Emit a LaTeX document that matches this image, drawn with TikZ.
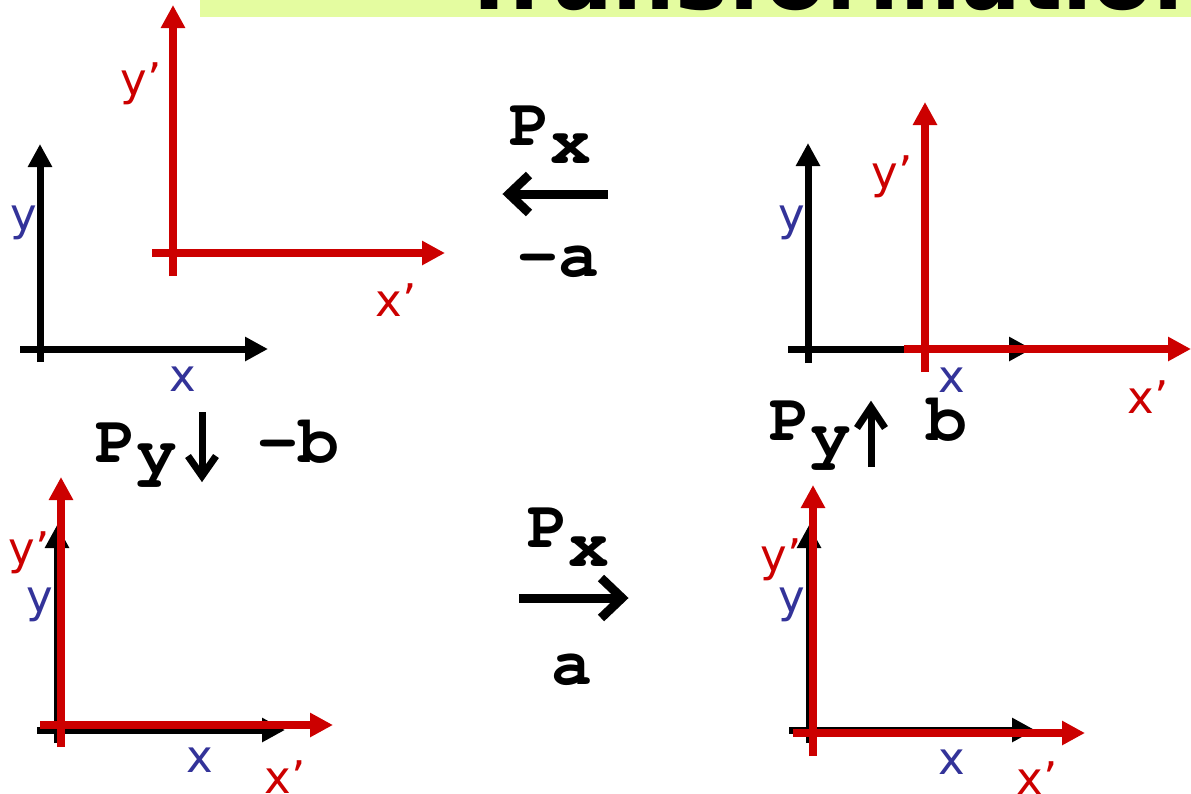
\documentclass[tikz,border=0pt]{standalone}
\usepackage{fontspec}
\setmainfont{DejaVu Sans}
\newfontfamily\cour{TeX Gyre Cursor}
\usetikzlibrary{arrows.meta}
\definecolor{axred}{RGB}{204,0,0}
\definecolor{axblue}{RGB}{51,51,153}
\definecolor{band}{RGB}{228,252,160}
\begin{document}
\begin{tikzpicture}[x=1pt,y=-1pt,
  blkax/.style={line width=7pt,black,-{Triangle[length=23pt,width=23pt]}},
  redax/.style={line width=8pt,axred,-{Triangle[length=23pt,width=23pt]}},
  lblb/.style={text=axblue,font=\fontsize{45}{45}\selectfont,inner sep=0pt},
  lblr/.style={text=axred,font=\fontsize{45}{45}\selectfont,inner sep=0pt},
  mono/.style={font=\cour\bfseries\fontsize{68}{68}\selectfont,inner sep=0pt,anchor=base west},
  symh/.style={line width=9pt,line join=miter,line cap=butt},
  symv/.style={line width=7pt,line join=miter,line cap=butt}]
\useasboundingbox (0,0) rectangle (1191,793);
\clip (0,0) rectangle (1191,793);
% title band
\fill[band] (200,0) rectangle (1191,17);
\node[anchor=base west,inner sep=0pt,font=\bfseries\fontsize{88}{88}\selectfont] (title) at (459,9) {Transformations};
% top-left panel
\draw[blkax] (40,362) -- (40,144);
\draw[blkax] (20,349) -- (268,349);
\draw[redax] (173,276) -- (173,5);
\draw[redax] (152,253) -- (445,253);
\node[lblb] (tly) at (24,223) {y};
\node[lblb] (tlx) at (183,379) {x};
\node[lblr] (tlyp) at (141,84) {y’};
\node[lblr] (tlxp) at (396,300) {x’};
% top-right panel
\draw[blkax] (808,363) -- (808,143);
\draw[blkax] (788,349) -- (1032,349);
\draw[redax] (904,349) -- (1191,349);
\draw[redax] (925,372) -- (925,102);
\node[lblb] (try) at (792,223) {y};
\node[lblr] (tryp) at (892,177) {y’};
\node[lblb] (trx) at (952,380) {x};
\node[lblr] (trxp) at (1148,397) {x’};
% bottom-left panel
\draw[blkax] (57,743) -- (57,525);
\draw[blkax] (37,730) -- (285,730);
\draw[redax] (61,747) -- (61,477);
\draw[redax] (40,725) -- (333,725);
\node[lblr] (blyp) at (29,553) {y’};
\node[lblb] (bly) at (40,605) {y};
\node[lblb] (blx) at (200,760) {x};
\node[lblr] (blxp) at (285,777) {x’};
% bottom-right panel
\draw[blkax] (809,743) -- (809,525);
\draw[blkax] (789,730) -- (1035,730);
\draw[redax] (813,756) -- (813,485);
\draw[redax] (793,733) -- (1085,733);
\node[lblr] (bryp) at (781,560) {y’};
\node[lblb] (bry) at (792,605) {y};
\node[lblb] (brx) at (952,762) {x};
\node[lblr] (brxp) at (1037,778) {x’};
% operator texts
\node[mono] (px1) at (509,145) {P\raisebox{-18pt}{x}};
\node[mono] (ma) at (517,276) {-a};
\node[mono] (px2) at (527,547) {P\raisebox{-19pt}{x}};
\node[mono] (pa) at (551,684) {a};
\node[mono] (py1) at (95,462) {P\raisebox{-11pt}{y}};
\node[mono] (mb) at (257,462) {-b};
\node[mono] (py2) at (769,440) {P\raisebox{-16pt}{y}};
\node[mono] (pb) at (926,440) {b};
% operator arrows
\coordinate (l1s) at (608,194); \coordinate (l1t) at (509,194);
\draw[symh] (l1s) -- (l1t);
\draw[symh] (529,175) -- (l1t) -- (529,213);
\coordinate (r1s) at (519,598); \coordinate (r1t) at (622,598);
\draw[symh] (r1s) -- (r1t);
\draw[symh] (601,578) -- (r1t) -- (601,618);
\coordinate (d1s) at (202,412); \coordinate (d1t) at (202,476);
\draw[symv] (d1s) -- (d1t);
\draw[symv] (188,456) -- (d1t) -- (216,456);
\coordinate (u1s) at (871,467); \coordinate (u1t) at (871,407);
\draw[symv] (u1s) -- (u1t);
\draw[symv] (857,428) -- (u1t) -- (885,428);
\end{tikzpicture}
\end{document}
